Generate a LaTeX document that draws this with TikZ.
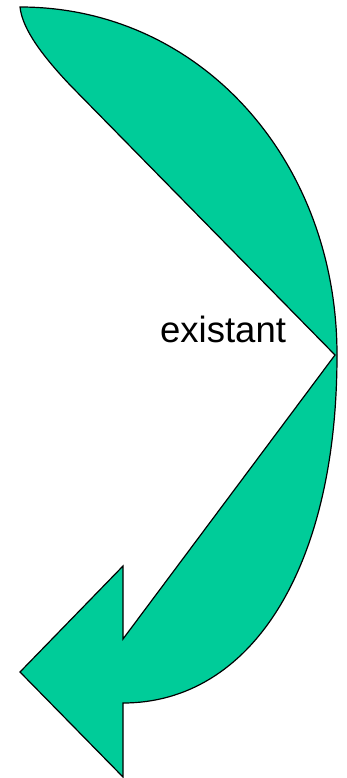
\documentclass[tikz,border=0pt]{standalone}
\usepackage{fontspec}
\setmainfont{Liberation Sans}

\begin{document}
\begin{tikzpicture}[x=1pt,y=-1pt]
    \tikzset{
      bentarrow/.style={fill=arrowgreen, draw=black, line width=1.2pt, line join=miter},
      caption/.style={font=\fontsize{36.5}{40}\selectfont, inner sep=0pt, anchor=base west}
    }
    \definecolor{arrowgreen}{RGB}{0,204,153}
    \useasboundingbox (0,0) rectangle (347,778);

    % gebogener Pfeil: aussen Bogen, innen fast gerade, Spitze unten links
    \draw[bentarrow] (20,7)
        .. controls (200,7) and (337,160) .. (337,355)
        .. controls (337,570) and (250,703) .. (123,703)
        -- (123,777) -- (20,672) -- (123,566) -- (123,639)
        -- (335,355) -- (70,85)
        .. controls (35,48) and (22,25) .. (20,7) -- cycle;

    % Beschriftung
    \node[caption] (label) at (160,342) {existant};
\end{tikzpicture}
\end{document}
